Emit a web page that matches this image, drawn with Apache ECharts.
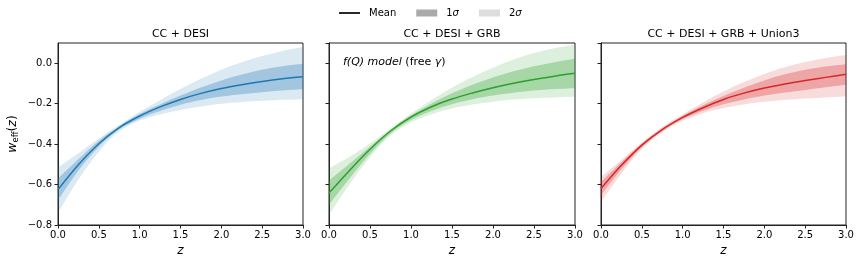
<!DOCTYPE html>
<html><head><meta charset="utf-8">
<script src="https://cdn.jsdelivr.net/npm/echarts@6/dist/echarts.min.js"></script>
<style>html,body{margin:0;padding:0;background:#fff}#c{width:864px;height:265px}</style>
</head><body><div id="c"></div>
<script>
const zValues = [0, 0.25, 0.5, 0.75, 1.0, 1.25, 1.5, 1.75, 2.0, 2.25, 2.5, 2.75, 3.0];
const xTicks = [0, 0.5, 1.0, 1.5, 2.0, 2.5, 3.0];
const yTicks = [-0.8, -0.6, -0.4, -0.2, 0.0];
const panelTitles = ['CC + DESI', 'CC + DESI + GRB', 'CC + DESI + GRB + Union3'];

// Panel 1: CC + DESI
const meanA = [-0.625,-0.502,-0.398,-0.318,-0.261,-0.216,-0.179,-0.149,-0.125,-0.106,-0.090,-0.077,-0.067];
const lo1A  = [-0.678,-0.530,-0.413,-0.327,-0.274,-0.236,-0.205,-0.182,-0.165,-0.153,-0.143,-0.135,-0.129];
const hi1A  = [-0.570,-0.475,-0.383,-0.312,-0.251,-0.204,-0.160,-0.120,-0.085,-0.056,-0.032,-0.015,-0.003];
const lo2A  = [-0.740,-0.575,-0.438,-0.337,-0.283,-0.253,-0.231,-0.214,-0.201,-0.192,-0.186,-0.181,-0.178];
const hi2A  = [-0.515,-0.445,-0.372,-0.306,-0.240,-0.183,-0.128,-0.077,-0.032,0.005,0.036,0.061,0.080];
// Panel 2: CC + DESI + GRB
const meanB = [-0.642,-0.530,-0.425,-0.335,-0.266,-0.215,-0.177,-0.147,-0.121,-0.099,-0.080,-0.064,-0.050];
const lo1B  = [-0.700,-0.570,-0.448,-0.347,-0.281,-0.236,-0.203,-0.178,-0.160,-0.146,-0.135,-0.128,-0.122];
const hi1B  = [-0.580,-0.497,-0.413,-0.330,-0.258,-0.199,-0.149,-0.106,-0.070,-0.040,-0.015,0.005,0.022];
const lo2B  = [-0.750,-0.598,-0.465,-0.358,-0.293,-0.252,-0.224,-0.204,-0.190,-0.180,-0.173,-0.169,-0.166];
const hi2B  = [-0.520,-0.462,-0.397,-0.323,-0.249,-0.182,-0.121,-0.068,-0.022,0.018,0.050,0.074,0.091];
// Panel 3: CC + DESI + GRB + Union3
const meanC = [-0.620,-0.505,-0.405,-0.328,-0.268,-0.220,-0.179,-0.148,-0.123,-0.103,-0.086,-0.070,-0.055];
const lo1C  = [-0.653,-0.524,-0.415,-0.335,-0.277,-0.235,-0.203,-0.179,-0.160,-0.145,-0.132,-0.119,-0.107];
const hi1C  = [-0.587,-0.490,-0.398,-0.322,-0.261,-0.208,-0.162,-0.121,-0.085,-0.055,-0.032,-0.016,-0.005];
const lo2C  = [-0.686,-0.545,-0.424,-0.342,-0.285,-0.247,-0.222,-0.204,-0.191,-0.181,-0.174,-0.169,-0.165];
const hi2C  = [-0.562,-0.478,-0.392,-0.316,-0.252,-0.194,-0.140,-0.093,-0.053,-0.020,0.006,0.026,0.041];

const colors = ['#1f77b4', '#2ca02c', '#d62728'];
const rgbs = ['31,119,180', '44,160,44', '214,39,40'];
const panels = [
  {mean: meanA, lo1: lo1A, hi1: hi1A, lo2: lo2A, hi2: hi2A},
  {mean: meanB, lo1: lo1B, hi1: hi1B, lo2: lo2B, hi2: hi2B},
  {mean: meanC, lo1: lo1C, hi1: hi1C, lo2: lo2C, hi2: hi2C}
];
const grids = [
  {left: 58, top: 43, width: 245, height: 182},
  {left: 329, top: 43, width: 246, height: 182},
  {left: 601, top: 43, width: 245, height: 182}
];
const FONT = 'DejaVu Sans';
const fmt = v => { const r = Math.round(v * 10) / 10; return (r < 0 ? '\u2212' : '') + Math.abs(r).toFixed(1); };
const isTick = (arr, v) => arr.some(t => Math.abs(t - v) < 1e-6);
const diffs = (hi, lo) => hi.map((h, i) => +(h - lo[i]).toFixed(4));

const xAxes = [], yAxes = [], series = [], titles = [];
grids.forEach((g, k) => {
  titles.push({text: panelTitles[k], left: g.left + g.width / 2, top: 29, textAlign: 'center', padding: 0,
    textStyle: {fontFamily: FONT, fontSize: 11, fontWeight: 'normal', color: '#000'}});
  xAxes.push({type: 'category', gridIndex: k, data: zValues.map(String), boundaryGap: false,
    name: 'z', nameLocation: 'middle', nameGap: 20,
    nameTextStyle: {fontFamily: FONT, fontSize: 12, fontStyle: 'italic', color: '#000'},
    axisLine: {show: true, onZero: false, lineStyle: {color: '#222', width: 1}},
    axisTick: {show: true, length: 3.5, interval: (i, v) => isTick(xTicks, Number(v)), lineStyle: {color: '#222'}},
    axisLabel: {fontFamily: FONT, fontSize: 10, color: '#000', margin: 5,
      interval: (i, v) => isTick(xTicks, Number(v)), formatter: v => fmt(Number(v))},
    splitLine: {show: false}});
  yAxes.push({type: 'value', gridIndex: k, min: -0.8, max: 0.1, interval: 0.2,
    name: k === 0 ? '{i|w}{s|eff}{n|(}{i|z}{n|)}' : '', nameLocation: 'middle', nameGap: 38, nameRotate: 90,
    nameTextStyle: {fontFamily: FONT, fontSize: 12, color: '#000',
      rich: {i: {fontFamily: FONT, fontSize: 12.5, fontStyle: 'italic', lineHeight: 15, color: '#000'},
             n: {fontFamily: FONT, fontSize: 12.5, lineHeight: 15, color: '#000'},
             s: {fontFamily: FONT, fontSize: 8.5, verticalAlign: 'bottom', lineHeight: 9, color: '#000'}}},
    axisLine: {show: true, lineStyle: {color: '#222', width: 1}},
    axisTick: {show: true, length: 3.5, lineStyle: {color: '#222'}},
    axisLabel: {show: k === 0, fontFamily: FONT, fontSize: 10, color: '#000', margin: 6, showMaxLabel: false,
      formatter: v => isTick(yTicks, v) ? fmt(v) : ''},
    splitLine: {show: false}});
  const p = panels[k];
  const common = {type: 'line', xAxisIndex: k, yAxisIndex: k, showSymbol: false, symbol: 'none', smooth: 0.35,
    silent: true, stackStrategy: 'all', lineStyle: {opacity: 0, width: 0}, z: 2};
  series.push(Object.assign({}, common, {name: 'b2' + k, stack: 's2_' + k, data: p.lo2}));
  series.push(Object.assign({}, common, {name: 'f2' + k, stack: 's2_' + k, data: diffs(p.hi2, p.lo2),
    areaStyle: {color: 'rgba(' + rgbs[k] + ',0.16)', opacity: 1}}));
  series.push(Object.assign({}, common, {name: 'b1' + k, stack: 's1_' + k, data: p.lo1, z: 3}));
  series.push(Object.assign({}, common, {name: 'f1' + k, stack: 's1_' + k, data: diffs(p.hi1, p.lo1), z: 3,
    areaStyle: {color: 'rgba(' + rgbs[k] + ',0.30)', opacity: 1}}));
  series.push({type: 'line', name: 'm' + k, xAxisIndex: k, yAxisIndex: k, showSymbol: false, symbol: 'none',
    smooth: 0.35, silent: true, data: p.mean, z: 5, lineStyle: {color: colors[k], width: 1.5}});
});
// legend proxies
series.push({type: 'line', name: 'Mean', data: [], xAxisIndex: 0, yAxisIndex: 0, itemStyle: {color: '#000'}, lineStyle: {color: '#000'}});
series.push({type: 'line', name: '1σ', data: [], xAxisIndex: 0, yAxisIndex: 0, itemStyle: {color: '#aaaaaa'}});
series.push({type: 'line', name: '2σ', data: [], xAxisIndex: 0, yAxisIndex: 0, itemStyle: {color: '#dddddd'}});

const chart = echarts.init(document.getElementById('c'), null, {renderer: 'canvas'});
chart.setOption({
  animation: false,
  backgroundColor: '#fff',
  title: titles,
  legend: {left: 339, top: 8, itemGap: 20, itemWidth: 21, itemHeight: 7, selectedMode: false, padding: 0,
    data: [{name: 'Mean', icon: 'path://M0,0H20V1.6H0Z'}, {name: '1σ', icon: 'rect'}, {name: '2σ', icon: 'rect'}],
    textStyle: {fontFamily: FONT, fontSize: 10, color: '#000', padding: [0, 0, 0, 4],
      rich: {i: {fontFamily: FONT, fontSize: 10, fontStyle: 'italic', color: '#000', padding: [0, 0, 0, 0]}}},
    formatter: n => n === 'Mean' ? 'Mean' : n.charAt(0) + '{i|σ}'},
  grid: grids.map(g => Object.assign({show: true, borderColor: '#222', borderWidth: 1, backgroundColor: 'transparent'}, g)),
  xAxis: xAxes,
  yAxis: yAxes,
  series: series,
  graphic: [{type: 'text', left: 343, top: 57, z: 10,
    style: {text: '{i|f(Q) model} (free {i|γ})', fill: '#000', font: '11px "DejaVu Sans"',
      rich: {i: {fontStyle: 'italic', fontFamily: FONT, fontSize: 11, fill: '#000'}}}}]
});
</script></body></html>
